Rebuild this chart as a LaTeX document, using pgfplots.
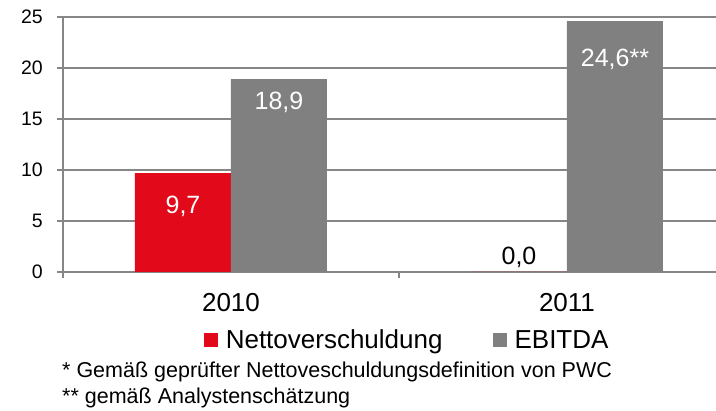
\documentclass[border=0pt]{standalone}
\usepackage{pgfplots}
\pgfplotsset{compat=1.18}
\usepackage{fontspec}
\setmainfont{Liberation Sans}
\definecolor{netred}{HTML}{E20A1A}
\definecolor{ebgray}{HTML}{808080}
\definecolor{gridgray}{HTML}{868686}

\begin{document}
\begin{tikzpicture}
\useasboundingbox (-63pt,-139pt) rectangle (653pt,272pt);
\begin{axis}[
    at={(0pt,0pt)}, anchor=south west,
    scale only axis,
    width=653pt, height=255pt,
    ybar=0pt, bar width=96pt,
    xmin=-0.5, xmax=1.4435,
    ymin=0, ymax=25,
    ytick={0,5,...,25},
    xtick={0,1}, xticklabels={2010,2011},
    minor xtick={-0.5,0.5,1.5},
    axis x line*=bottom, axis y line*=left,
    axis line style={gridgray, line width=1.5pt, -},
    tick align=outside,
    major tick length=6pt, minor tick length=6pt,
    major x tick style={draw=none},
    minor x tick style={gridgray, line width=1.2pt},
    y tick style={gridgray, line width=1.5pt},
    ymajorgrids=true,
    grid style={gridgray, line width=1.5pt},
    /pgf/number format/assume math mode=true,
    yticklabel style={font=\fontsize{19.5}{20}\selectfont, anchor=east, inner sep=0pt, xshift=-14pt},
    xticklabel style={font=\fontsize{26}{26}\selectfont, anchor=north, inner sep=0pt, yshift=-15pt},
    legend image code/.code={\fill[#1] (0pt,-7pt) rectangle (14pt,7pt);},
    legend style={at={(0.527,-0.267)}, anchor=center, draw=none, fill=none,
        legend columns=2, font=\fontsize{26}{26}\selectfont,
        /tikz/every odd column/.append style={column sep=6pt},
        /tikz/every even column/.append style={column sep=48pt},
        inner sep=0pt},
    legend cell align=left,
    point meta=explicit symbolic,
    nodes near coords,
    visualization depends on={value \thisrow{dy} \as \dy},
    visualization depends on={value \thisrow{c} \as \lc},
    every node near coord/.append style={font=\fontsize{25}{25}\selectfont,
        anchor=center, yshift=\dy pt, text=\lc},
]
\addplot[fill=netred, draw=none] table[x=x, y=y, meta=lbl] {
x y    lbl  dy  c
0 9.7  9,7  -33 white
1 0    0,0  15  black
};
\addplot[fill=ebgray, draw=none] table[x=x, y=y, meta=lbl] {
x y    lbl     dy  c
0 18.9 18,9    -23 white
1 24.6 24,6**  -38 white
};
\legend{Nettoverschuldung, EBITDA}
\end{axis}
\node[anchor=west, inner sep=0pt, font=\fontsize{21.5}{22}\selectfont] at (-1pt,-100pt)
    {* Gemäß geprüfter Nettoveschuldungsdefinition von PWC};
\node[anchor=west, inner sep=0pt, font=\fontsize{21.5}{22}\selectfont] at (-1pt,-126pt)
    {** gemäß Analystenschätzung};
\end{tikzpicture}
\end{document}
